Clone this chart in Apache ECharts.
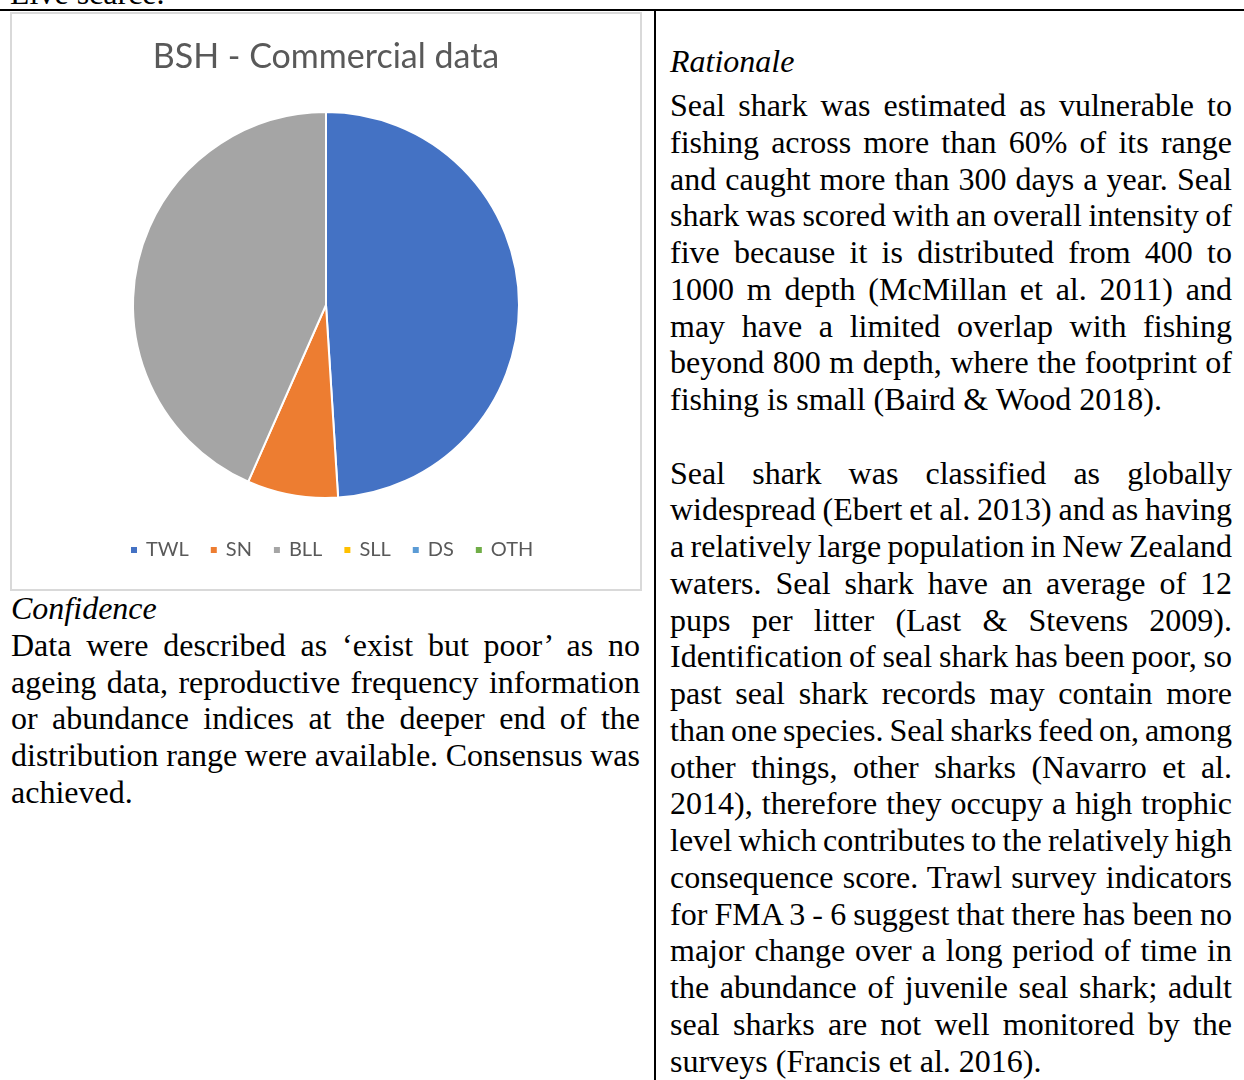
<!DOCTYPE html>
<html>
<head>
<meta charset="utf-8">
<script src="https://cdn.jsdelivr.net/npm/echarts@6/dist/echarts.min.js"></script>
<style>
  html, body { margin: 0; padding: 0; background: #fff; }
  body { width: 1244px; height: 1080px; position: relative; overflow: hidden;
         font-family: "Liberation Serif", "Times New Roman", serif; font-size: 32px; color: #000; }
  .hr { position: absolute; left: 0; top: 9px; width: 1244px; height: 2px; background: #000; }
  .vr { position: absolute; left: 654px; top: 9px; width: 2px; height: 1080px; background: #000; }
  #main { position: absolute; left: 10px; top: 12px; width: 632px; height: 579px;
          border: 2px solid #d9d9d9; box-sizing: border-box; }
  .col { position: absolute; line-height: 36.75px; white-space: nowrap; }
  .col div { text-align: justify; text-align-last: justify; word-spacing: -4px; }
  .col div.last { text-align-last: left; word-spacing: 0; }
  .col div.gap { height: 36.75px; }
  i { font-style: italic; }
</style>
</head>
<body>
<div class="col" style="left:10px; top:-25px;"><div class="last">Live scarce.</div></div>
<div class="hr"></div>
<div class="vr"></div>
<div id="main"></div>

<div class="col" style="left:11px; top:590px; width:629px;">
  <div class="last"><i>Confidence</i></div>
  <div>Data were described as ‘exist but poor’ as no</div>
  <div>ageing data, reproductive frequency information</div>
  <div>or abundance indices at the deeper end of the</div>
  <div>distribution range were available. Consensus was</div>
  <div class="last">achieved.</div>
</div>

<div class="col" style="left:670px; top:43px; width:562px;">
  <div class="last"><i>Rationale</i></div>
</div>
<div class="col" style="left:670px; top:87px; width:562px;">
  <div>Seal shark was estimated as vulnerable to</div>
  <div>fishing across more than 60% of its range</div>
  <div>and caught more than 300 days a year. Seal</div>
  <div>shark was scored with an overall intensity of</div>
  <div>five because it is distributed from 400 to</div>
  <div>1000 m depth (McMillan et al. 2011) and</div>
  <div>may have a limited overlap with fishing</div>
  <div>beyond 800 m depth, where the footprint of</div>
  <div class="last">fishing is small (Baird &amp; Wood 2018).</div>
  <div class="gap"></div>
  <div>Seal shark was classified as globally</div>
  <div>widespread (Ebert et al. 2013) and as having</div>
  <div>a relatively large population in New Zealand</div>
  <div>waters. Seal shark have an average of 12</div>
  <div>pups per litter (Last &amp; Stevens 2009).</div>
  <div>Identification of seal shark has been poor, so</div>
  <div>past seal shark records may contain more</div>
  <div>than one species. Seal sharks feed on, among</div>
  <div>other things, other sharks (Navarro et al.</div>
  <div>2014), therefore they occupy a high trophic</div>
  <div>level which contributes to the relatively high</div>
  <div>consequence score. Trawl survey indicators</div>
  <div>for FMA 3 - 6 suggest that there has been no</div>
  <div>major change over a long period of time in</div>
  <div>the abundance of juvenile seal shark; adult</div>
  <div>seal sharks are not well monitored by the</div>
  <div class="last">surveys (Francis et al. 2016).</div>
</div>

<script>
var gears = ['TWL', 'SN', 'BLL', 'SLL', 'DS', 'OTH'];
var shares = [49.0, 7.6, 43.4, 0, 0, 0];
var colours = ['#4472C4', '#ED7D31', '#A5A5A5', '#FFC000', '#5B9BD5', '#70AD47'];

var myChart = echarts.init(document.getElementById('main'));

var pieData = [];
for (var i = 0; i < gears.length; i++)
{
    pieData.push({ name: gears[i], value: shares[i], itemStyle: { color: colours[i] } });
}

var option =
{
    animation: false,
    color: colours,
    title:
    {
        text: 'BSH - Commercial data',
        left: 'center',
        top: 26,
        padding: 0,
        textStyle:
        {
            color: '#595959',
            fontFamily: 'Lato',
            fontWeight: 'normal',
            fontSize: 34
        }
    },
    legend:
    {
        data: gears,
        left: 117,
        top: 526,
        padding: 0,
        icon: 'rect',
        itemWidth: 8,
        itemHeight: 8,
        itemGap: 20,
        selectedMode: false,
        textStyle:
        {
            color: '#595959',
            fontFamily: 'Lato',
            fontSize: 20,
            padding: [0, 0, 0, 3]
        }
    },
    series:
    {
        type: 'pie',
        center: [314, 291],
        radius: 193,
        startAngle: 90,
        clockwise: true,
        label: { show: false },
        labelLine: { show: false },
        emphasis: { disabled: true },
        itemStyle:
        {
            borderColor: '#fff',
            borderWidth: 2
        },
        data: pieData
    }
};

myChart.setOption(option);
</script>
</body>
</html>
